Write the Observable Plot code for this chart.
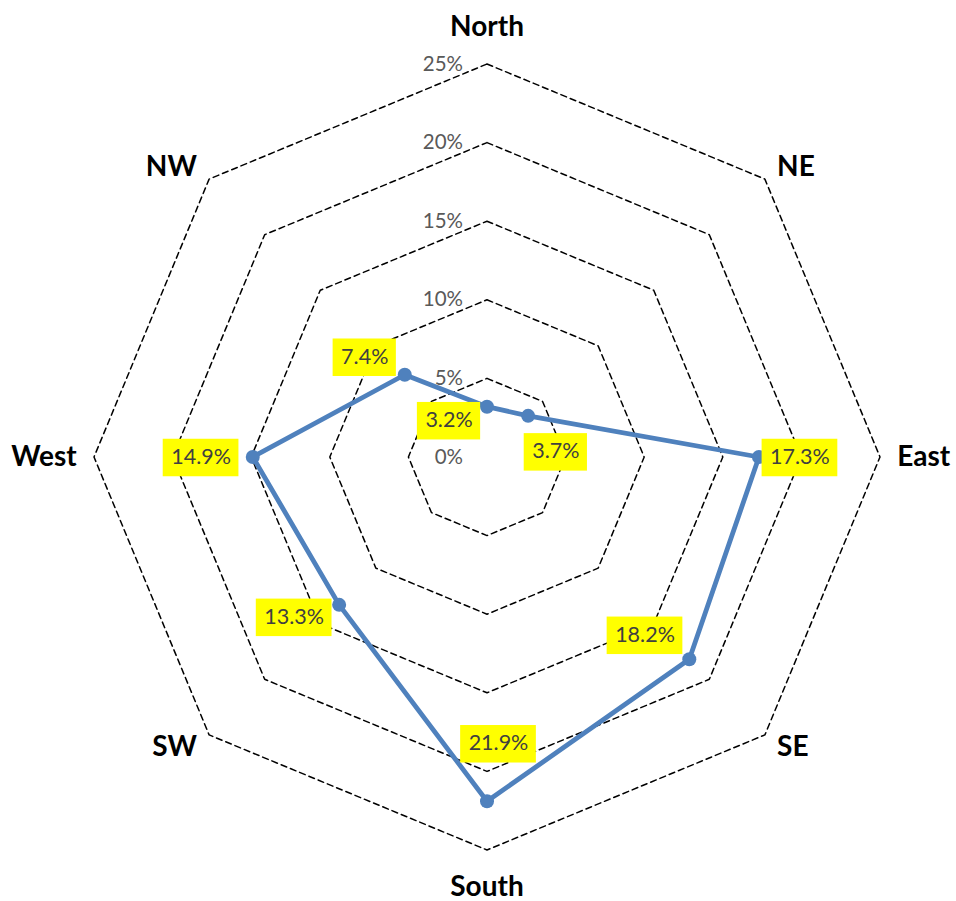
<!DOCTYPE html>
<html>
<head>
<meta charset="utf-8">
<script src="https://cdn.jsdelivr.net/npm/d3@7"></script>
<script src="https://cdn.jsdelivr.net/npm/@observablehq/plot@0.6"></script>
<style>
  html, body { margin: 0; padding: 0; background: #fff; }
  #chart svg { display: block; }
</style>
</head>
<body>
<div id="chart"></div>
<script>
// Wind direction frequency, share of observations (%)
const directions = ["North", "NE", "East", "SE", "South", "SW", "West", "NW"];
const shares = [3.2, 3.7, 17.3, 18.2, 21.9, 13.3, 14.9, 7.4];
const ringTicks = [0, 5, 10, 15, 20, 25];
const tickLabels = ["0%", "5%", "10%", "15%", "20%", "25%"];

// Layout: where each value label sits relative to its point (pixels, right/down)
const labelNudge = [[-38, 13.5], [27.7, 35.5], [41, 0], [-44.3, -24.5], [11.5, -58], [-45, 12], [-51.7, 0], [-40, -18]];

const W = 956, H = 901;
const cx = 486.5, cy = 456.5;  // centre of the radar, pixels
const k = 15.72;               // pixels per percentage point
const n = directions.length;
const labelSize = 21.5;
const labelFont = `${labelSize}px Lato, sans-serif`;

const angle = i => (i * 2 * Math.PI) / n; // clockwise from north
const polar = (r, i) => ({x: r * Math.sin(angle(i)), y: r * Math.cos(angle(i))});

// Dashed octagon rings
const rings = ringTicks.filter(r => r > 0).flatMap(r =>
  d3.range(n + 1).map(i => ({ring: r, ...polar(r, i % n)}))
);

// Series polygon (closed)
const points = shares.map((v, i) => ({dir: directions[i], value: v, ...polar(v, i)}));
const outline = [...points, points[0]];

// Text width measurement for the label boxes
const ctx = document.createElement("canvas").getContext("2d");
ctx.font = labelFont;

// Value labels with yellow boxes sized to their text
const padX = 8, boxH = 37.5;
const valueLabels = points.map((p, i) => {
  const text = p.value.toFixed(1) + "%";
  const x = p.x + labelNudge[i][0] / k;
  const y = p.y - labelNudge[i][1] / k;
  const halfW = (ctx.measureText(text).width / 2 + padX) / k;
  const halfH = boxH / 2 / k;
  return {text, x, y, x1: x - halfW, x2: x + halfW, y1: y - halfH - 1 / k, y2: y + halfH - 1 / k};
});

// Direction labels around the outside
const dirLabels = directions.map((d, i) => {
  const s = Math.sin(angle(i));
  const side = s > 0.1 ? "start" : s < -0.1 ? "end" : "middle";
  const r = side === "middle" ? 27.35 : 26.1;
  return {text: d, side, ...polar(r, i)};
});

const chart = Plot.plot({
  width: W,
  height: H,
  margin: 0,
  style: {fontFamily: "Lato, sans-serif", background: "#fff"},
  x: {domain: [-cx / k, (W - cx) / k], axis: null},
  y: {domain: [-(H - cy) / k, cy / k], axis: null},
  marks: [
    Plot.line(rings, {x: "x", y: "y", z: "ring", stroke: "#000", strokeWidth: 1.5, strokeDasharray: "6,4", curve: "linear"}),
    Plot.line(outline, {x: "x", y: "y", stroke: "#4F81BD", strokeWidth: 4.8, strokeLinejoin: "round"}),
    Plot.dot(points, {x: "x", y: "y", r: 7, fill: "#4F81BD", stroke: "none"}),
    ...["start", "middle", "end"].map(side =>
      Plot.text(dirLabels.filter(d => d.side === side), {
        x: "x", y: "y", text: "text", textAnchor: side,
        fontSize: 28, fontWeight: "bold", fill: "#000"
      })
    ),
    Plot.text(ringTicks, {
      x: () => 0, y: d => d, text: (d, i) => tickLabels[i],
      textAnchor: "end", dx: -24, fontSize: 20.5, fill: "#595959"
    }),
    Plot.rect(valueLabels, {x1: "x1", x2: "x2", y1: "y1", y2: "y2", fill: "#FFFF00"}),
    Plot.text(valueLabels, {x: "x", y: "y", text: "text", fontSize: labelSize, fill: "#404040"})
  ]
});

document.getElementById("chart").appendChild(chart);
</script>
</body>
</html>
